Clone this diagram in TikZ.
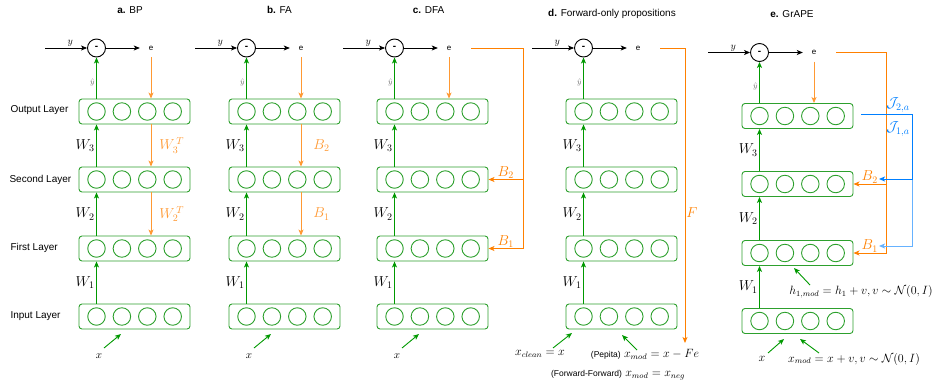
\documentclass[tikz,border=0pt]{standalone}
\usepackage{fontspec}
\setmainfont{Liberation Sans}
\usetikzlibrary{arrows.meta}
\definecolor{grA}{RGB}{0,153,0}
\definecolor{grB}{RGB}{45,160,45}
\definecolor{orA}{RGB}{255,128,0}
\definecolor{orB}{RGB}{255,153,51}
\definecolor{blA}{RGB}{0,127,255}
\definecolor{blB}{RGB}{102,178,255}
\definecolor{grayt}{RGB}{110,110,110}
\newcommand\fs[1]{\fontsize{#1}{#1}\selectfont}
\begin{document}
\begin{tikzpicture}[x=1pt,y=-1pt,
  arrtip/.style={-{Stealth[length=6pt,width=5pt,inset=1.5pt]}},
  lbox/.style={draw=grB,line width=0.9pt,rounded corners=3pt,minimum width=111pt,minimum height=25pt,inner sep=0pt},
  neuron/.style={draw=grB,line width=0.9pt,circle,minimum size=17.5pt,inner sep=0pt},
  minusnode/.style={draw=black,line width=0.9pt,circle,minimum size=18pt,inner sep=0pt,font=\fs{10}\bfseries},
  enode/.style={minimum width=22pt,minimum height=18pt,inner sep=0pt,font=\fs{8}},
  garr/.style={draw=grA,line width=0.9pt,arrtip},
  karr/.style={draw=black,line width=0.8pt,arrtip},
  oarr/.style={draw=orA,line width=0.9pt,arrtip},
  oarrl/.style={draw=orB,line width=0.9pt,arrtip},
  barr/.style={draw=blA,line width=1pt,arrtip},
  barrl/.style={draw=blB,line width=1pt,arrtip},
  lay/.style={anchor=west,font=\fs{10}},
  ttl/.style={font=\fs{10}},
  wlab/.style={left,inner sep=1.5pt,font=\fs{14}},
  olab/.style={right,inner sep=0pt,font=\fs{14},text=orB},
  blab/.style={above,inner sep=0.5pt,font=\fs{14},text=orA},
]
\useasboundingbox (0,0) rectangle (936,383);

% titles
\node[ttl] (ta) at (130,10) {\textbf{a.} BP};
\node[ttl] (tb) at (279.5,10) {\textbf{b.} FA};
\node[ttl] (tc) at (428.5,10) {\textbf{c.} DFA};
\node[ttl] (td) at (612,14) {\textbf{d.} Forward-only propositions};
\node[ttl] (te) at (792,14) {\textbf{e.} GrAPE};

% layer names
\node[lay] (l1) at (7,110) {Output Layer};
\node[lay] (l2) at (6,180) {Second Layer};
\node[lay] (l3) at (7,248) {First Layer};
\node[lay] (l4) at (7,316) {Input Layer};

% panels
\foreach \p/\lx/\dy in {a/79/0,b/229/0,c/377/0,d/566/0,e/742/4.5}{
  \foreach \n/\yy in {out/111.5,sec/179.5,fir/248.5,inp/316.5}{
    \node[lbox] (\p-\n) at (\lx+55.5,\yy+\dy) {};
    \foreach \i in {0,1,2,3}{\node[neuron] (\p-\n-\i) at (\lx+17.5+25.4*\i,\yy+\dy) {};}
  }
  \node[minusnode] (\p-m) at (\lx+17.5,48+\dy) {-};
  \node[enode] (\p-e) at (\lx+72,48+\dy) {e};
  \coordinate (\p-ys) at (\lx-34,48+\dy);
  \draw[karr] (\p-ys) -- node[above,pos=0.6,inner sep=1pt,font=\fs{10}] {$y$} (\p-m);
  \draw[karr] (\p-m) -- (\p-e);
  \draw[garr] (\p-out.north -| \p-m) -- node[left,pos=0.4,inner sep=1.5pt,font=\fs{8},text=grayt] {$\hat{y}$} (\p-m);
  \draw[garr] (\p-sec.north -| \p-m) -- node[wlab] {$W_3$} (\p-out.south -| \p-m);
  \draw[garr] (\p-fir.north -| \p-m) -- node[wlab] {$W_2$} (\p-sec.south -| \p-m);
  \draw[garr] (\p-inp.north -| \p-m) -- node[wlab] {$W_1$} (\p-fir.south -| \p-m);
}

% a: BP
\draw[oarrl] (a-e) -- (a-e |- a-out.north);
\draw[oarrl] (a-out.south -| a-e) -- node[olab,xshift=8pt] {$W_{3}^{\,T}$} (a-sec.north -| a-e);
\draw[oarrl] (a-sec.south -| a-e) -- node[olab,xshift=8pt] {$W_{2}^{\,T}$} (a-fir.north -| a-e);

% b: FA
\draw[oarrl] (b-e) -- (b-e |- b-out.north);
\draw[oarrl] (b-out.south -| b-e) -- node[olab,xshift=12pt] {$B_2$} (b-sec.north -| b-e);
\draw[oarrl] (b-sec.south -| b-e) -- node[olab,xshift=12pt] {$B_1$} (b-fir.north -| b-e);

% c: DFA
\draw[oarrl] (c-e) -- (c-e |- c-out.north);
\coordinate (c-ox) at (523,0);
\draw[oarr] ([xshift=11pt]c-e.east) -| (c-ox |- c-fir.east) -- node[blab] {$B_1$} (c-fir.east);
\draw[oarr] (c-ox |- c-sec.east) -- node[blab] {$B_2$} (c-sec.east);

% d: forward-only
\coordinate (d-fe) at (685,343);
\draw[oarr] ([xshift=11pt]d-e.east) -| (d-fe);
\node[font=\fs{14},text=orA] (d-F) at (692,213) {$F$};

% e: GrAPE
\draw[oarrl] (e-e) -- (e-e |- e-out.north);
\coordinate (e-ox) at (886,0);
\draw[oarr] ([xshift=11pt]e-e.east) -| (e-ox |- e-fir.east) -- node[blab] {$B_1$} (e-fir.east);
\draw[oarr] (e-ox |- e-sec.east) -- node[blab] {$B_2$} (e-sec.east);
\coordinate (e-bs) at (861,114);
\coordinate (e-bx) at (912,0);
\coordinate (e-b2) at (879,179);
\coordinate (e-b1) at (879,246);
\draw[barrl] (e-bs) -| (e-bx |- e-b1) -- (e-b1);
\draw[barr] (e-bs) -| (e-bx |- e-b2) -- (e-b2);
\node[font=\fs{14},text=blA] (j2) at (898,105) {$\mathcal{J}_{2,a}$};
\node[font=\fs{14},text=blA] (j1) at (898,129) {$\mathcal{J}_{1,a}$};

% inputs a-c
\foreach \p/\lx in {a/79,b/229,c/377}{
  \node[font=\fs{11}] (\p-x) at (\lx+20,356) {$x$};
  \coordinate (\p-xs) at (\lx+25,348);
  \coordinate (\p-xt) at (\lx+42,334);
  \draw[garr] (\p-xs) -- (\p-xt);
}

% inputs d
\node[font=\fs{12}] (d-xc) at (540,354) {$x_{clean}=x$};
\node[font=\fs{12}] (d-pep) at (645,354) {{\fs{8.5}(Pepita)} $x_{mod}=x-Fe$};
\node[font=\fs{12}] (d-ff) at (618,375) {{\fs{8.5}(Forward-Forward)} $x_{mod}=x_{neg}$};
\coordinate (d-a1s) at (553,348); \coordinate (d-a1t) at (572,333);
\coordinate (d-a2s) at (637,350); \coordinate (d-a2t) at (622,335);
\draw[garr] (d-a1s) -- (d-a1t);
\draw[garr] (d-a2s) -- (d-a2t);

% inputs e
\node[font=\fs{12}] (e-h) at (861,292) {$h_{1,mod}=h_1+v, v\sim\mathcal{N}(0,I)$};
\coordinate (e-hs) at (810,285); \coordinate (e-ht) at (794,268);
\draw[garr] (e-hs) -- (e-ht);
\node[font=\fs{12}] (e-x) at (762,359) {$x$};
\node[font=\fs{12}] (e-xm) at (854,359) {$x_{mod}=x+v, v\sim\mathcal{N}(0,I)$};
\coordinate (e-a1s) at (768,353); \coordinate (e-a1t) at (784,339);
\coordinate (e-a2s) at (819,353); \coordinate (e-a2t) at (800,339);
\draw[garr] (e-a1s) -- (e-a1t);
\draw[garr] (e-a2s) -- (e-a2t);
\end{tikzpicture}
\end{document}
